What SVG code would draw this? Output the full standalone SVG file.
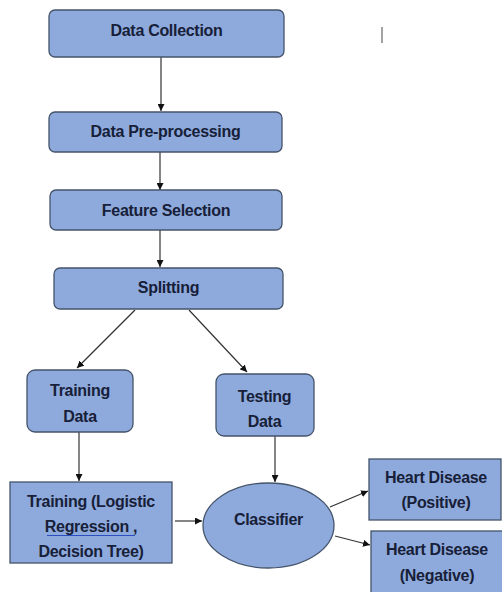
<svg xmlns="http://www.w3.org/2000/svg" width="502" height="592" viewBox="0 0 502 592">
<style>
.box{fill:#8eaadc;stroke:#44546a;stroke-width:1.3}
.t{font-family:"Liberation Sans",Arial,sans-serif;font-weight:bold;font-size:16px;letter-spacing:-0.3px;fill:#172038;text-anchor:middle}
.c{stroke:#333;stroke-width:1.2;fill:none;marker-end:url(#ah)}
</style>
<defs>
<marker id="ah" viewBox="0 0 10 10" refX="10" refY="5" markerWidth="7" markerHeight="7" markerUnits="userSpaceOnUse" orient="auto">
<path d="M0,0 L10,5 L0,10 z" fill="#111"/>
</marker>
</defs>
<rect width="502" height="592" fill="#fff"/>
<line x1="382" y1="27" x2="382" y2="43" stroke="#666" stroke-width="1.2"/>
<g id="connectors">
<line class="c" x1="161" y1="57" x2="161" y2="111"/>
<line class="c" x1="160" y1="152" x2="160" y2="190"/>
<line class="c" x1="160" y1="230" x2="160" y2="267"/>
<line class="c" x1="135" y1="310" x2="77" y2="368"/>
<line class="c" x1="189" y1="310" x2="247" y2="372"/>
<line class="c" x1="79" y1="432" x2="79" y2="481"/>
<line class="c" x1="275" y1="436" x2="275" y2="482"/>
<line class="c" x1="175" y1="521" x2="202" y2="521"/>
<line class="c" x1="330" y1="507" x2="368" y2="491"/>
<line class="c" x1="335" y1="536" x2="370" y2="545"/>
</g>
<g id="data-collection">
<rect class="box" x="49" y="10" width="235" height="47" rx="6"/>
<text class="t" x="166.5" y="36">Data Collection</text>
</g>
<g id="data-preprocessing">
<rect class="box" x="49" y="112" width="233" height="40" rx="6"/>
<text class="t" x="165.5" y="137">Data Pre-processing</text>
</g>
<g id="feature-selection">
<rect class="box" x="50" y="190" width="232" height="40" rx="6"/>
<text class="t" x="166" y="216">Feature Selection</text>
</g>
<g id="splitting">
<rect class="box" x="54" y="268" width="229" height="41" rx="6"/>
<text class="t" x="168.5" y="293">Splitting</text>
</g>
<g id="training-data">
<rect class="box" x="27" y="370" width="106" height="62" rx="8"/>
<text class="t" x="80" y="396">Training</text>
<text class="t" x="80" y="422">Data</text>
</g>
<g id="testing-data">
<rect class="box" x="216" y="374" width="98" height="62" rx="8"/>
<text class="t" x="264.5" y="402">Testing</text>
<text class="t" x="264.5" y="427">Data</text>
</g>
<g id="training">
<rect class="box" x="10" y="482" width="162" height="81"/>
<text class="t" x="91" y="507">Training (Logistic</text>
<text class="t" x="91" y="532">Regression ,</text>
<line x1="47" y1="535.5" x2="135" y2="535.5" stroke="#2b4fc0" stroke-width="1"/>
<text class="t" x="91" y="557">Decision Tree)</text>
</g>
<g id="classifier">
<ellipse class="box" cx="268.5" cy="525.5" rx="65.5" ry="42.5"/>
<text class="t" x="268.5" y="525">Classifier</text>
</g>
<g id="hd-positive">
<rect class="box" x="369" y="459" width="132" height="61"/>
<text class="t" x="436" y="483">Heart Disease</text>
<text class="t" x="436" y="508">(Positive)</text>
</g>
<g id="hd-negative">
<rect class="box" x="371" y="531" width="132" height="66"/>
<text class="t" x="437" y="555">Heart Disease</text>
<text class="t" x="437" y="581">(Negative)</text>
</g>
</svg>
